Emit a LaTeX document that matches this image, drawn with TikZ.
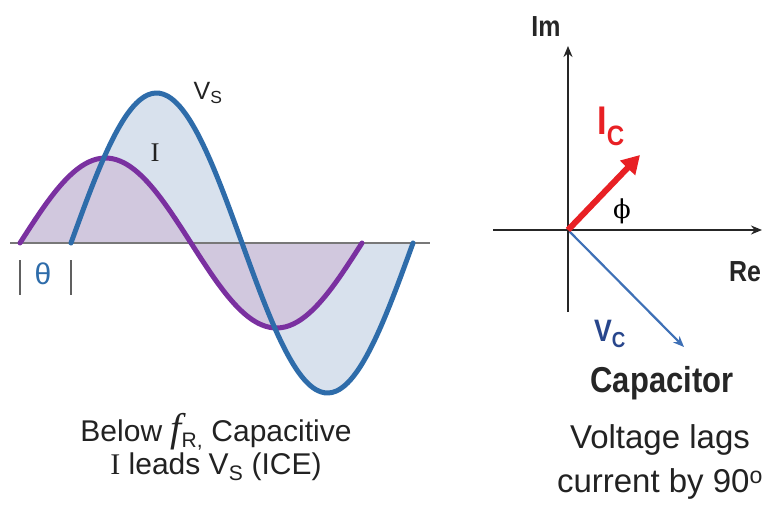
\documentclass[tikz,border=0pt]{standalone}
\usepackage{fontspec}
\setmainfont{Liberation Serif}
\setsansfont{Liberation Sans}
\newfontfamily\narrowsf[FakeStretch=0.86]{Liberation Sans}
\newfontfamily\phifont{DejaVu Serif}
\usetikzlibrary{arrows.meta,positioning}
\definecolor{vsBlue}{RGB}{46,108,170}
\definecolor{vsFill}{RGB}{216,225,237}
\definecolor{iPurple}{RGB}{122,48,160}
\definecolor{iFill}{RGB}{209,200,222}
\definecolor{axGray}{RGB}{120,120,120}
\definecolor{icRed}{RGB}{232,32,36}
\definecolor{vcBlue}{RGB}{62,112,182}
\definecolor{vcText}{RGB}{40,70,140}
\definecolor{txtDark}{RGB}{34,34,34}
\tikzset{
    wave/.style={line width=5pt, line cap=round},
    baseAxis/.style={line width=2.6pt, draw=axGray},
    thetaBar/.style={line width=2.2pt, draw=axGray!80!black},
    phAxis/.style={line width=2.8pt, draw=black!85, -{Stealth[length=11pt,width=9pt]}},
    icArrow/.style={line width=6pt, draw=icRed, -{Triangle[length=18pt,width=20pt]}},
    vcArrow/.style={line width=2.2pt, draw=vcBlue, -{Stealth[length=11pt,width=9pt]}},
    waveLabel/.style={font=\sffamily\fontsize{25}{28}\selectfont, text=txtDark, inner sep=0pt},
    caption/.style={font=\sffamily\fontsize{30}{33}\selectfont, text=txtDark, align=center, inner sep=0pt},
    axLabel/.style={font=\narrowsf\bfseries\fontsize{29}{32}\selectfont, text=black!85, inner sep=0pt},
    phasorLabel/.style={font=\narrowsf\bfseries\fontsize{40}{42}\selectfont, inner sep=0pt},
    note/.style={font=\sffamily\fontsize{33}{44}\selectfont, text=txtDark, align=center, inner sep=0pt}
}
\begin{document}
\begin{tikzpicture}[x=1pt,y=-1pt]
\useasboundingbox (0,0) rectangle (769,508);

% time plot: fills first, then axis and the two waves
\fill[vsFill] plot[domain=71:413, samples=90, smooth] (\x,{243-150*sin((\x-71)*1.05263)}) -- cycle;
\fill[iFill] plot[domain=20:362, samples=90, smooth] (\x,{243-85*sin((\x-20)*1.05263)}) -- cycle;
\coordinate (tL) at (10,243);
\coordinate (tR) at (430,243);
\draw[baseAxis] (tL) -- (tR);
\draw[wave, iPurple] plot[domain=20:362, samples=90, smooth] (\x,{243-85*sin((\x-20)*1.05263)});
\draw[wave, vsBlue] plot[domain=71:413, samples=90, smooth] (\x,{243-150*sin((\x-71)*1.05263)});

% phase gap marks
\draw[thetaBar] (20,260) -- (20,295);
\draw[thetaBar] (71,260) -- (71,295);
\node[waveLabel, text=vsBlue, font=\sffamily\fontsize{30}{30}\selectfont] (theta) at (43,274) {θ};

\node[waveLabel] (vsLab) at (208,93) {V\textsubscript{S}};
\node[waveLabel, font=\rmfamily\fontsize{27}{30}\selectfont] (iLab) at (155,153) {I};

\node[caption] (below) at (216,447) {Below {\rmfamily\itshape\fontsize{40}{40}\selectfont f}\textsubscript{R,} Capacitive\\{\rmfamily I} leads V\textsubscript{S} (ICE)};

% phasor diagram
\coordinate (O) at (568,230);
\coordinate (imTop) at (568,46);
\coordinate (imBot) at (568,312);
\coordinate (reL) at (493,230);
\coordinate (reR) at (762,230);
\coordinate (icTip) at (640,155);
\coordinate (vcTip) at (684,347);

\draw[vcArrow] (O) -- (vcTip);
\draw[phAxis, -] (imBot) -- (O);
\draw[phAxis] (O) -- (imTop);
\draw[phAxis] (reL) -- (reR);
\draw[icArrow] (O) -- (icTip);

\node[axLabel] (im) at (546,27) {Im};
\node[axLabel] (re) at (745,272) {Re};
\node[phasorLabel, text=icRed] (icLab) at (611,126) {I\textsubscript{C}};
\node[phasorLabel, text=vcText, font=\narrowsf\bfseries\fontsize{31}{32}\selectfont] (vcLab) at (610,334) {V\textsubscript{C}};
\node[inner sep=0pt, font=\phifont\fontsize{26}{26}\selectfont] (phi) at (622,211) {ϕ};

\node[axLabel, font=\narrowsf\bfseries\fontsize{36}{38}\selectfont] (cap) at (662,383) {Capacitor};
\node[note] (lag) at (660,462) {Voltage lags\\current by 90\textsuperscript{o}};
\end{tikzpicture}
\end{document}
